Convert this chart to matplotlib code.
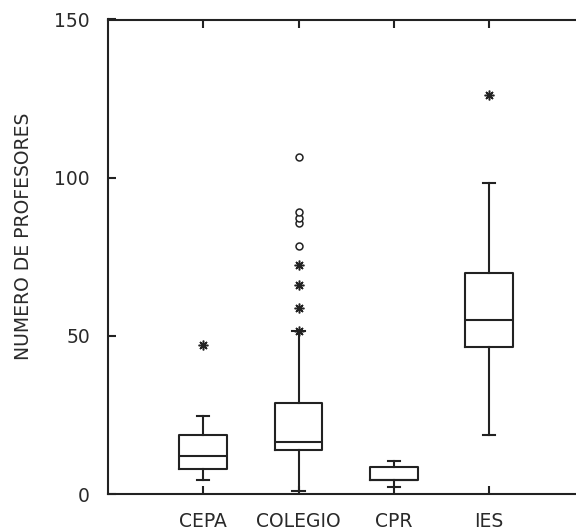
import matplotlib
matplotlib.use('Agg')
import matplotlib.pyplot as plt

categories = ['CEPA', 'COLEGIO', 'CPR', 'IES']
whisker_low = [4.4, 0.8, 2.3, 18.5]
q1 = [7.9, 13.8, 4.4, 46.5]
median = [12.1, 16.3, 4.4, 54.9]
q3 = [18.6, 28.8, 8.4, 70.0]
whisker_high = [24.7, 51.5, 10.5, 98.2]

extreme_cat = ['CEPA', 'COLEGIO', 'COLEGIO', 'COLEGIO', 'COLEGIO', 'IES']
extreme_val = [47.0, 51.6, 58.7, 66.0, 72.4, 126.0]
outlier_cat = ['COLEGIO', 'COLEGIO', 'COLEGIO', 'COLEGIO', 'COLEGIO']
outlier_val = [78.4, 85.8, 87.4, 89.2, 106.6]

y_ticks = [0, 50, 100, 150]
y_label = 'NUMERO DE PROFESORES'

INK = '#222222'
TXT = '#2a2a2a'
LW = 1.5
FS = 13.5

plt.rcParams['font.family'] = ['DejaVu Sans']

fig = plt.figure(figsize=(5.76, 5.32), dpi=100)
ax = fig.add_axes([108 / 576, 38 / 532, 476.5 / 576, 474.5 / 532])

positions = list(range(1, len(categories) + 1))
stats = []
for i, c in enumerate(categories):
    stats.append(dict(label=c, whislo=whisker_low[i], q1=q1[i], med=median[i],
                      q3=q3[i], whishi=whisker_high[i], fliers=[]))

ax.bxp(stats, positions=positions, widths=0.5, capwidths=0.13,
       showfliers=False,
       boxprops=dict(color=INK, linewidth=LW),
       whiskerprops=dict(color=INK, linewidth=LW),
       capprops=dict(color=INK, linewidth=LW),
       medianprops=dict(color=INK, linewidth=LW))

pos_of = {c: p for c, p in zip(categories, positions)}
ax.plot([pos_of[c] for c in extreme_cat], extreme_val, linestyle='none',
        marker=(8, 2, 0), markersize=7, markeredgewidth=1.1, color=INK)
ax.plot([pos_of[c] for c in outlier_cat], outlier_val, linestyle='none',
        marker='o', markersize=5, markeredgewidth=1.1,
        markerfacecolor='white', markeredgecolor=INK)

ax.set_xlim(0, 5)
ax.set_ylim(0, 150)
ax.set_xticks(positions, categories)
ax.set_yticks(y_ticks)
ax.tick_params(direction='in', length=6, width=LW, top=True, right=True,
               labelsize=FS, pad=13, colors=INK, labelcolor=TXT)
for s in ax.spines.values():
    s.set_linewidth(LW)
    s.set_color(INK)

ax.set_ylabel(y_label, fontsize=FS, color=TXT)
ax.yaxis.set_label_coords(-0.157, 0.544)

fig.savefig('out.png', dpi=100)
